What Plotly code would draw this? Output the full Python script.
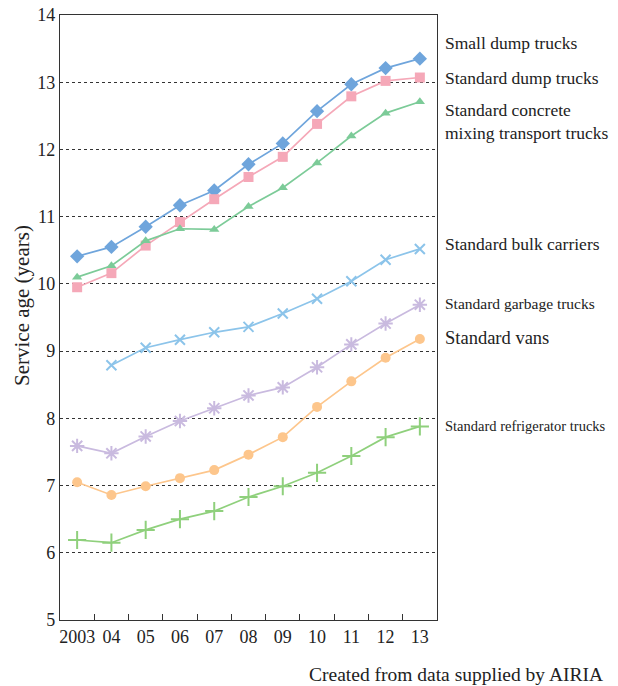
import plotly.graph_objects as go

years = ["2003", "04", "05", "06", "07", "08", "09", "10", "11", "12", "13"]

small_dump = [10.41, 10.55, 10.85, 11.17, 11.39, 11.78, 12.09, 12.57, 12.97, 13.21, 13.35]
std_dump = [9.95, 10.16, 10.57, 10.92, 11.26, 11.59, 11.89, 12.38, 12.79, 13.02, 13.07]
concrete = [10.10, 10.27, 10.64, 10.82, 10.81, 11.15, 11.43, 11.80, 12.20, 12.54, 12.71]
bulk = [None, 8.79, 9.05, 9.17, 9.28, 9.36, 9.56, 9.78, 10.04, 10.36, 10.52]
garbage = [7.59, 7.48, 7.73, 7.96, 8.15, 8.34, 8.46, 8.76, 9.10, 9.41, 9.69]
vans = [7.05, 6.86, 6.99, 7.11, 7.23, 7.46, 7.72, 8.17, 8.55, 8.90, 9.18]
refrig = [6.19, 6.15, 6.34, 6.50, 6.62, 6.83, 6.99, 7.19, 7.44, 7.72, 7.88]

series_names = ["Small dump trucks", "Standard dump trucks", "Standard concrete<br>mixing transport trucks",
                "Standard bulk carriers", "Standard garbage trucks", "Standard vans",
                "Standard refrigerator trucks"]
label_y = [13.58, 13.06, 12.42, 10.59, 9.71, 9.19, 7.88]
label_size = [17.5, 17.5, 17.5, 17.5, 15.5, 18.5, 14.5]

SERIF = "Liberation Serif"

styles = [
    (small_dump, "#6fa5dc", "diamond", 11, 0),
    (std_dump, "#f5a8b8", "square", 10, 0),
    (concrete, "#7ccb98", "triangle-up", 9, 0),
    (bulk, "#8cc4ea", "x-thin-open", 10, 2),
    (garbage, "#c9badf", "asterisk-open", 12, 2),
    (vans, "#fdc68c", "circle", 10, 0),
    (refrig, "#8fd07c", "cross-thin-open", 13, 2),
]

fig = go.Figure()
for vals, col, sym, sz, lw in styles:
    marker = dict(symbol=sym, size=sz, color=col)
    if lw:
        marker["line"] = dict(color=col, width=lw)
    else:
        marker["line"] = dict(width=0)
    fig.add_trace(go.Scatter(x=years, y=vals, mode="lines+markers",
                             line=dict(color=col, width=1.7), marker=marker,
                             showlegend=False, hoverinfo="skip"))

for name, yv, fs in zip(series_names, label_y, label_size):
    fig.add_annotation(text=name, xref="paper", yref="y", x=1, xshift=6, y=yv,
                       xanchor="left", yanchor="middle", showarrow=False, align="left",
                       font=dict(family=SERIF, size=fs, color="#222"))

fig.add_annotation(text="Service age (years)", xref="paper", yref="paper", x=0, xshift=-38,
                   y=0.519, textangle=-90, showarrow=False, xanchor="center", yanchor="middle",
                   font=dict(family=SERIF, size=21, color="#222"))
fig.add_annotation(text="Created from data supplied by AIRIA", xref="paper", yref="paper",
                   x=1, xshift=168, y=0, yshift=-54, xanchor="right", yanchor="middle",
                   showarrow=False, font=dict(family=SERIF, size=19.5, color="#222"))

# page body has an 8px margin, so the figure is offset by (8, 8)
fig.update_layout(
    width=610, height=678,
    margin=dict(l=52, r=181, t=7, b=66),
    paper_bgcolor="white", plot_bgcolor="white",
    font=dict(family=SERIF, size=18, color="#222"),
    xaxis=dict(type="category", range=[-0.5, 10.5], showline=True, linecolor="#333",
               linewidth=1.2, mirror=True, ticks="inside", ticklen=6, tickcolor="#333",
               tickson="boundaries", showgrid=False, zeroline=False, tickangle=0,
               automargin=False, ticklabeloverflow="allow",
               tickfont=dict(family=SERIF, size=18, color="#222")),
    yaxis=dict(range=[5, 14], dtick=1, showline=True, linecolor="#333", linewidth=1.2,
               mirror=True, ticks="", showgrid=True, gridcolor="#333", gridwidth=1,
               griddash="dot", zeroline=False, automargin=False, ticklabeloverflow="allow",
               tickfont=dict(family=SERIF, size=18, color="#222")),
)

fig.write_html("out.html")
